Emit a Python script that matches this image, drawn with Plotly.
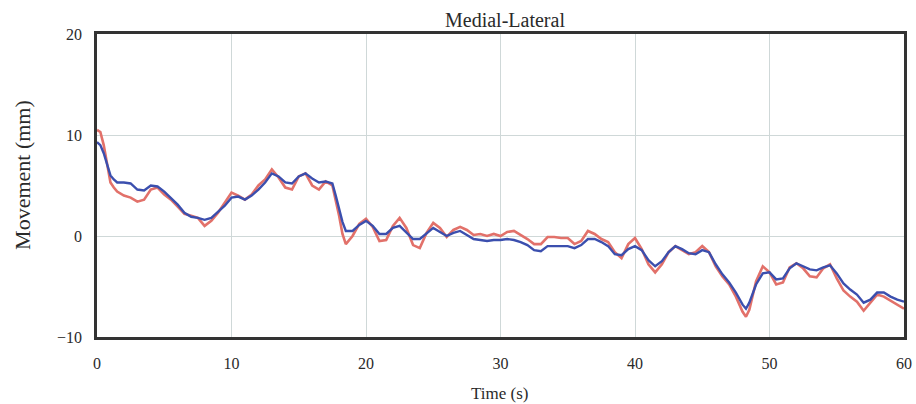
import plotly.graph_objects as go

time_s = [0, 0.25, 0.5, 0.75, 1.0, 1.25, 1.5, 2.0, 2.5, 3.0, 3.5, 4.0, 4.5, 5.0, 5.5, 6.0, 6.5, 7.0, 7.5, 8.0,
          8.5, 9.0, 9.5, 10.0, 10.5, 11.0, 11.5, 12.0, 12.5, 13.0, 13.5, 14.0, 14.5, 15.0, 15.5, 16.0, 16.5, 17.0,
          17.5, 17.75, 18.0, 18.25, 18.5, 19.0, 19.5, 20.0, 20.5, 21.0, 21.5, 22.0, 22.5, 23.0, 23.5, 24.0, 24.5,
          25.0, 25.5, 26.0, 26.5, 27.0, 27.5, 28.0, 28.5, 29.0, 29.5, 30.0, 30.5, 31.0, 31.5, 32.0, 32.5, 33.0,
          33.5, 34.0, 34.5, 35.0, 35.5, 36.0, 36.5, 37.0, 37.5, 38.0, 38.5, 39.0, 39.5, 40.0, 40.5, 41.0, 41.5,
          42.0, 42.5, 43.0, 43.5, 44.0, 44.5, 45.0, 45.5, 46.0, 46.5, 47.0, 47.5, 48.0, 48.25, 48.5, 49.0, 49.5,
          50.0, 50.5, 51.0, 51.5, 52.0, 52.5, 53.0, 53.5, 54.0, 54.5, 55.0, 55.5, 56.0, 56.5, 57.0, 57.5, 58.0,
          58.5, 59.0, 59.5, 60.0]

blue_mm = [9.3, 9.0, 8.2, 7.0, 6.0, 5.6, 5.3, 5.3, 5.2, 4.6, 4.5, 5.0, 4.9, 4.4, 3.8, 3.1, 2.3, 1.9, 1.8, 1.6,
           1.8, 2.4, 3.0, 3.8, 3.9, 3.6, 4.0, 4.6, 5.3, 6.2, 5.9, 5.3, 5.2, 5.9, 6.2, 5.7, 5.3, 5.4,
           5.2, 4.0, 2.8, 1.4, 0.5, 0.5, 1.1, 1.5, 1.0, 0.2, 0.2, 0.8, 1.0, 0.3, -0.3, -0.3, 0.3,
           0.8, 0.4, 0.0, 0.3, 0.5, 0.1, -0.3, -0.4, -0.5, -0.4, -0.4, -0.3, -0.4, -0.6, -0.9, -1.4, -1.5,
           -1.0, -1.0, -1.0, -1.0, -1.2, -0.9, -0.3, -0.3, -0.6, -1.0, -1.8, -1.9, -1.3, -1.0, -1.4, -2.4, -3.0,
           -2.5, -1.6, -1.0, -1.3, -1.7, -1.8, -1.4, -1.6, -2.8, -3.8, -4.6, -5.6, -6.8, -7.2, -6.6, -4.8, -3.7,
           -3.6, -4.3, -4.2, -3.2, -2.7, -3.0, -3.3, -3.4, -3.1, -2.9, -3.7, -4.7, -5.3, -5.8, -6.6, -6.3, -5.6,
           -5.6, -6.0, -6.3, -6.5]

red_mm = [10.5, 10.3, 9.0, 7.0, 5.3, 4.8, 4.4, 4.0, 3.8, 3.4, 3.6, 4.6, 4.8, 4.1, 3.6, 2.9, 2.2, 2.0, 1.8, 1.0,
          1.5, 2.3, 3.3, 4.3, 4.0, 3.6, 4.1, 5.0, 5.6, 6.6, 5.8, 4.8, 4.6, 5.9, 6.2, 5.0, 4.6, 5.4,
          5.0, 3.6, 2.0, 0.2, -0.8, 0.0, 1.2, 1.7, 0.9, -0.5, -0.4, 1.0, 1.8, 0.8, -0.9, -1.2, 0.3,
          1.3, 0.8, -0.1, 0.6, 0.9, 0.6, 0.1, 0.2, 0.0, 0.2, 0.0, 0.4, 0.5, 0.1, -0.3, -0.8, -0.8,
          -0.1, -0.1, -0.2, -0.2, -0.8, -0.5, 0.5, 0.2, -0.3, -0.6, -1.6, -2.2, -0.8, -0.2, -1.3, -2.8, -3.6,
          -2.8, -1.6, -1.0, -1.4, -1.8, -1.6, -1.0, -1.6, -3.0, -4.0, -4.8, -6.0, -7.5, -8.0, -7.3, -4.5, -3.0,
          -3.6, -4.8, -4.6, -3.1, -2.7, -3.2, -4.0, -4.1, -3.2, -2.8, -4.2, -5.4, -6.0, -6.5, -7.4, -6.6, -5.8,
          -6.0, -6.4, -6.8, -7.2]

x_ticks = [0, 10, 20, 30, 40, 50, 60]
y_ticks = [-10, 0, 10, 20]

SERIF = "Liberation Serif"
TXT = "#2a2a2a"

fig = go.Figure()
fig.add_trace(go.Scatter(x=time_s, y=red_mm, mode="lines",
                         line=dict(color="#E2716A", width=2.6), showlegend=False))
fig.add_trace(go.Scatter(x=time_s, y=blue_mm, mode="lines",
                         line=dict(color="#3B4FAE", width=2.4), showlegend=False))

fig.update_layout(
    width=916, height=404,
    margin=dict(l=97, r=12, t=34, b=67, autoexpand=False),
    paper_bgcolor="white", plot_bgcolor="white",
    font=dict(family=SERIF, color=TXT),
    xaxis=dict(range=[0, 60], tickvals=x_ticks, showgrid=True, gridcolor="#cfd8d8", gridwidth=1,
               showline=True, linecolor="#333333", linewidth=2.5, mirror=True, zeroline=False,
               ticks="", ticklabelstandoff=10, tickfont=dict(size=16, family=SERIF), automargin=False),
    yaxis=dict(range=[-10, 20], tickvals=y_ticks, showgrid=True, gridcolor="#cfd8d8", gridwidth=1,
               showline=True, linecolor="#333333", linewidth=2.5, mirror=True, zeroline=False,
               ticks="", ticklabelstandoff=9, tickfont=dict(size=16, family=SERIF), automargin=False),
    annotations=[
        dict(text="Medial-Lateral", xref="paper", yref="paper", x=0.506, y=1.0, yshift=14,
             xanchor="center", yanchor="middle", showarrow=False,
             font=dict(family=SERIF, size=20, color=TXT)),
        dict(text="Time (s)", xref="paper", yref="paper", x=0.499, y=-0.185,
             xanchor="center", yanchor="middle", showarrow=False,
             font=dict(family=SERIF, size=17, color=TXT)),
        dict(text="Movement (mm)", xref="paper", yref="paper", x=-0.0917, y=0.535,
             xanchor="center", yanchor="middle", showarrow=False, textangle=-90,
             font=dict(family=SERIF, size=22, color=TXT)),
    ],
)

fig.write_html("out.html")
